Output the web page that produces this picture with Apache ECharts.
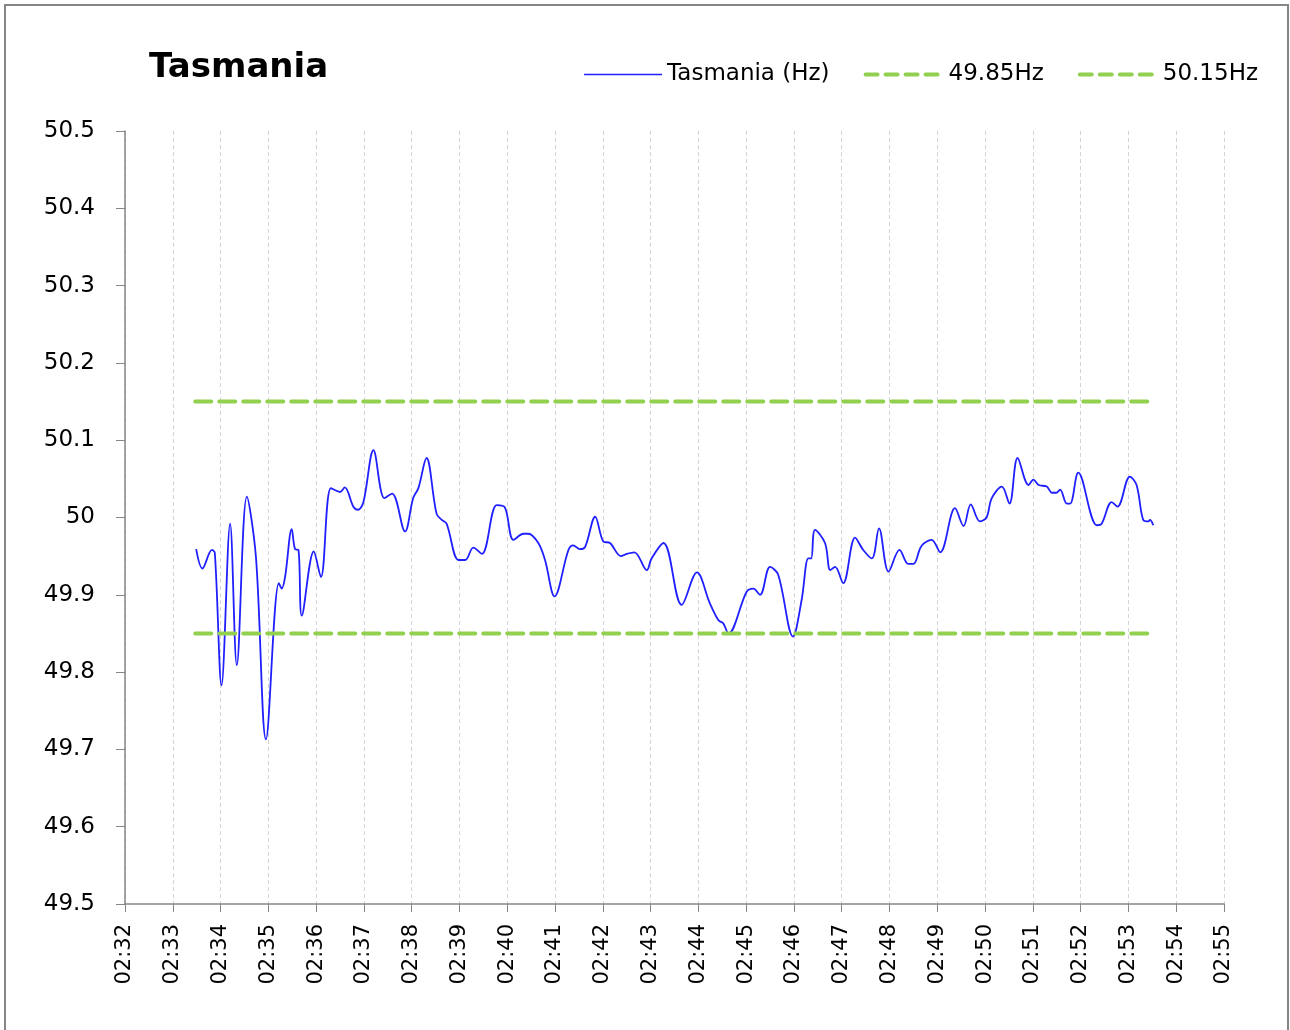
<!DOCTYPE html>
<html>
<head>
<meta charset="utf-8">
<title>Tasmania</title>
<script src="https://cdn.jsdelivr.net/npm/echarts@6/dist/echarts.min.js"></script>
<style>
  html, body { margin: 0; padding: 0; background: #fff; }
  #chart { width: 1290px; height: 1030px; }
</style>
</head>
<body>
<div id="chart"></div>
<script>
// time in minutes after 02:00, frequency in Hz
const minutes = [
  33.49, 33.62, 33.82, 33.88, 34.02, 34.20, 34.34, 34.55, 34.74, 34.95,
  35.22, 35.28, 35.35, 35.49, 35.56, 35.63, 35.70, 35.95, 36.10, 36.31,
  36.50, 36.60, 36.78, 36.88, 36.99, 37.20, 37.43, 37.59, 37.86, 38.03,
  38.14, 38.31, 38.52, 38.63, 38.73, 38.98, 39.12, 39.29, 39.47, 39.78,
  39.95, 40.13, 40.34, 40.44, 40.65, 40.79, 40.99, 41.28, 41.38, 41.52,
  41.63, 41.84, 42.01, 42.15, 42.38, 42.50, 42.66, 42.92, 43.02, 43.27,
  43.65, 43.97, 44.24, 44.42, 44.52, 44.63, 45.01, 45.15, 45.29, 45.50,
  45.67, 45.98, 46.16, 46.30, 46.36, 46.44, 46.65, 46.76, 46.86, 47.03,
  47.28, 47.45, 47.63, 47.78, 47.98, 48.21, 48.39, 48.50, 48.64, 48.71,
  48.88, 49.06, 49.37, 49.55, 49.70, 49.89, 50.03, 50.14, 50.35, 50.51,
  50.68, 50.91, 51.01, 51.12, 51.29, 51.40, 51.49, 51.57, 51.71, 51.78,
  51.95, 52.34, 52.44, 52.65, 52.77, 53.03, 53.17, 53.31, 53.42, 53.45,
  53.52
];
const hz = [
  49.959, 49.934, 49.958, 49.954, 49.783, 49.992, 49.809, 50.027, 49.949, 49.713,
  49.915, 49.908, 49.923, 49.985, 49.959, 49.958, 49.873, 49.956, 49.923, 50.038,
  50.033, 50.039, 50.014, 50.010, 50.020, 50.087, 50.025, 50.031, 49.982, 50.025,
  50.038, 50.077, 50.005, 49.997, 49.992, 49.945, 49.945, 49.961, 49.953, 50.016,
  50.013, 49.971, 49.979, 49.979, 49.967, 49.945, 49.898, 49.958, 49.964, 49.959,
  49.962, 50.001, 49.969, 49.967, 49.950, 49.953, 49.955, 49.932, 49.947, 49.967,
  49.887, 49.929, 49.889, 49.867, 49.863, 49.850, 49.904, 49.908, 49.900, 49.936,
  49.926, 49.846, 49.893, 49.947, 49.947, 49.984, 49.967, 49.932, 49.936, 49.915,
  49.974, 49.958, 49.947, 49.986, 49.930, 49.958, 49.940, 49.940, 49.960, 49.966,
  49.971, 49.955, 50.012, 49.989, 50.017, 49.995, 50.000, 50.025, 50.040, 50.018,
  50.077, 50.042, 50.049, 50.042, 50.040, 50.032, 50.032, 50.036, 50.018, 50.018,
  50.058, 49.990, 49.992, 50.020, 50.014, 50.053, 50.042, 49.997, 49.995, 49.997,
  49.990
];
const limitSpan = [33.47, 53.40];
const lowLimit = 49.85;
const highLimit = 50.15;

const chart = echarts.init(document.getElementById('chart'));

const fontFamily = '"DejaVu Sans", Verdana, sans-serif';
const blue = '#1f1fff';
const green = '#92D050';
const dashed = { color: green, width: 4, type: [16, 8], cap: 'round' };
const legendDash = { color: green, width: 4, type: [12, 8], cap: 'round' };

const option = {
  animation: false,
  textStyle: { fontFamily: fontFamily, color: '#000' },
  graphic: [{
    type: 'rect',
    shape: { x: 5, y: 5, width: 1283, height: 1040 },
    style: { fill: 'none', stroke: '#868686', lineWidth: 2 },
    silent: true
  }],
  title: {
    text: 'Tasmania',
    left: 144,
    top: 46,
    textStyle: { fontFamily: fontFamily, fontSize: 34, fontWeight: 'bold', color: '#000' }
  },
  legend: {
    right: 27,
    top: 58,
    itemWidth: 78,
    itemHeight: 14,
    itemGap: 34,
    itemStyle: { opacity: 0 },
    textStyle: { fontFamily: fontFamily, fontSize: 23, color: '#000' },
    data: [
      { name: 'Tasmania (Hz)', lineStyle: { color: blue, width: 1.6 } },
      { name: '49.85Hz', lineStyle: legendDash },
      { name: '50.15Hz', lineStyle: legendDash }
    ]
  },
  grid: { left: 125, right: 66, top: 131, bottom: 126 },
  xAxis: {
    type: 'value',
    min: 32,
    max: 55,
    interval: 1,
    axisLine: { show: true, lineStyle: { color: '#868686', width: 1.5 } },
    axisTick: { show: true, length: 8, lineStyle: { color: '#868686' } },
    axisLabel: {
      rotate: 90,
      margin: 20,
      fontSize: 21,
      color: '#000',
      fontFamily: fontFamily,
      formatter: v => '02:' + String(v).padStart(2, '0')
    },
    splitLine: { show: true, lineStyle: { color: '#d4d4d4', type: [4, 3], width: 1 } }
  },
  yAxis: {
    type: 'value',
    min: 49.5,
    max: 50.5,
    interval: 0.1,
    axisLine: { show: true, lineStyle: { color: '#868686', width: 1.5 } },
    axisTick: { show: true, length: 9, lineStyle: { color: '#868686' } },
    axisLabel: {
      margin: 30,
      fontSize: 23,
      color: '#000',
      fontFamily: fontFamily,
      formatter: v => String(Math.round(v * 10) / 10)
    },
    splitLine: { show: false }
  },
  series: [
    {
      name: 'Tasmania (Hz)',
      type: 'line',
      symbol: 'none',
      smooth: 0.35,
      lineStyle: { color: blue, width: 1.8 },
      itemStyle: { color: blue },
      data: minutes.map((m, i) => [m, hz[i]])
    },
    {
      name: '49.85Hz',
      type: 'line',
      symbol: 'none',
      lineStyle: dashed,
      itemStyle: { color: green },
      data: limitSpan.map(m => [m, lowLimit])
    },
    {
      name: '50.15Hz',
      type: 'line',
      symbol: 'none',
      lineStyle: dashed,
      itemStyle: { color: green },
      data: limitSpan.map(m => [m, highLimit])
    }
  ]
};

chart.setOption(option);
</script>
</body>
</html>
